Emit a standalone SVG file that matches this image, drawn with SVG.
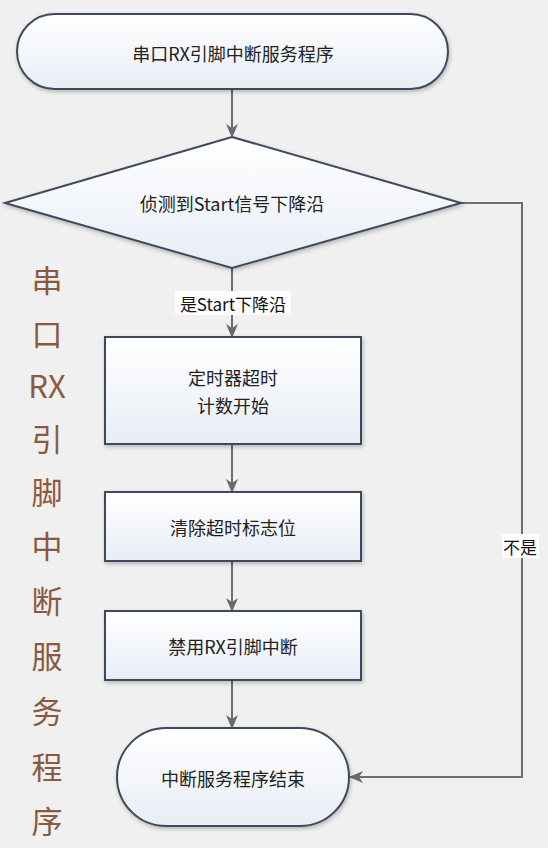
<svg xmlns="http://www.w3.org/2000/svg" width="548" height="848" viewBox="0 0 548 848">
<defs>
<linearGradient id="g" x1="0" y1="0" x2="0" y2="1">
<stop offset="0" stop-color="#ffffff"/>
<stop offset="1" stop-color="#e8edf5"/>
</linearGradient>
<filter id="sh" x="-10%" y="-10%" width="120%" height="130%">
<feGaussianBlur in="SourceAlpha" stdDeviation="2"/>
<feOffset dx="1" dy="2" result="b"/>
<feComponentTransfer><feFuncA type="linear" slope="0.25"/></feComponentTransfer>
<feMerge><feMergeNode/><feMergeNode in="SourceGraphic"/></feMerge>
</filter>
<marker id="arr" viewBox="0 0 14 14" refX="13" refY="7" markerWidth="14" markerHeight="14" markerUnits="userSpaceOnUse" orient="auto">
<path d="M0,1 L14,7 L0,13 L4,7 Z" fill="#6a6a6a"/>
</marker>
<style>
.node{fill:url(#g);stroke:#3e4a5c;stroke-width:2;filter:url(#sh)}
.t{font-family:"Noto Sans CJK SC","Noto Sans",sans-serif;font-size:18px;fill:#222;text-anchor:middle;dominant-baseline:central}
.c{fill:none;stroke:#6e6e6e;stroke-width:2}
.lbl{font-family:"Noto Sans CJK SC","Noto Sans",sans-serif;font-size:17px;fill:#111;text-anchor:middle;dominant-baseline:central}
.side{font-family:"Noto Sans CJK SC","Noto Sans",sans-serif;font-size:31px;fill:#8b5a3e;text-anchor:middle;dominant-baseline:central}
</style>
</defs>
<rect x="0" y="0" width="548" height="848" fill="#f0f0f0"/>

<g id="connectors">
<line class="c" x1="232" y1="90" x2="232" y2="137" marker-end="url(#arr)"/>
<line class="c" x1="232" y1="268" x2="232" y2="337" marker-end="url(#arr)"/>
<line class="c" x1="232" y1="444" x2="232" y2="492" marker-end="url(#arr)"/>
<line class="c" x1="232" y1="561" x2="232" y2="611" marker-end="url(#arr)"/>
<line class="c" x1="232" y1="680" x2="232" y2="728" marker-end="url(#arr)"/>
<polyline class="c" points="461,203 522,203 522,777 350,777" marker-end="url(#arr)"/>
<rect x="175" y="291" width="116" height="24" fill="#ffffff"/>
<text class="lbl" x="233" y="303">是Start下降沿</text>
<rect x="502" y="534" width="37" height="24" fill="#ffffff"/>
<text class="lbl" x="520" y="546">不是</text>
</g>

<g id="start">
<rect class="node" x="17" y="14" width="431" height="75" rx="37.5"/>
<text class="t" x="233" y="53">串口RX引脚中断服务程序</text>
</g>

<g id="decision">
<polygon class="node" points="232,137 461,203 232,268 5,203"/>
<text class="t" x="232" y="203">侦测到Start信号下降沿</text>
</g>

<g id="timer">
<rect class="node" x="105" y="337" width="256" height="107"/>
<text class="t" x="233" y="377">定时器超时</text>
<text class="t" x="233" y="405">计数开始</text>
</g>

<g id="clear">
<rect class="node" x="105" y="492" width="256" height="69"/>
<text class="t" x="233" y="527">清除超时标志位</text>
</g>

<g id="disable">
<rect class="node" x="105" y="611" width="256" height="69"/>
<text class="t" x="233" y="646">禁用RX引脚中断</text>
</g>

<g id="end">
<rect class="node" x="117" y="728" width="232" height="98" rx="49"/>
<text class="t" x="233" y="778">中断服务程序结束</text>
</g>

<g id="side-title">
<text class="side" x="47" y="278">串</text>
<text class="side" x="47" y="332">口</text>
<text class="side" x="47" y="384">RX</text>
<text class="side" x="47" y="437">引</text>
<text class="side" x="47" y="490">脚</text>
<text class="side" x="47" y="544">中</text>
<text class="side" x="47" y="599">断</text>
<text class="side" x="47" y="654">服</text>
<text class="side" x="47" y="709">务</text>
<text class="side" x="47" y="765">程</text>
<text class="side" x="47" y="819">序</text>
</g>
</svg>
